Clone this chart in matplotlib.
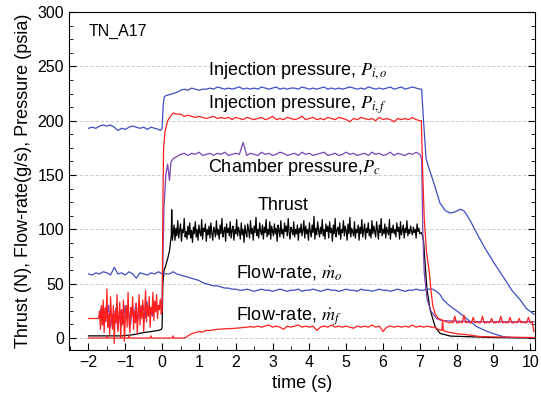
import matplotlib
matplotlib.use('Agg')
import matplotlib.pyplot as plt
from matplotlib.ticker import MultipleLocator
import numpy as np

plt.rcParams['font.family'] = ['Liberation Sans', 'DejaVu Sans']
plt.rcParams['mathtext.fontset'] = 'stix'

# ---- Injection pressure, oxidizer (blue) ----
pio_pre_t = [-2.0, -1.9, -1.8, -1.7, -1.6, -1.5, -1.4, -1.3, -1.2, -1.1, -1.0, -0.9, -0.8, -0.7,
             -0.6, -0.5, -0.4, -0.3, -0.2, -0.1, -0.05, 0.0, 0.03, 0.06, 0.1, 0.2, 0.3, 0.4, 0.5,
             0.6, 0.7, 0.8, 0.9, 1.0, 1.1]
pio_pre_v = [193, 194, 193, 195, 196, 195, 196, 194, 191, 193, 192, 194, 195, 194,
             193, 194, 192, 194, 193, 192, 191, 193, 215, 222, 223, 224, 225, 226, 228,
             229, 228, 230, 229, 228, 229]
pio_flat = [229, 230, 229, 231, 230, 229, 230, 229, 230, 231, 229, 230, 229, 230, 229, 231, 230, 229, 230, 231,
            229, 230, 229, 230, 230, 229, 231, 230, 229, 230, 229, 230, 231, 229, 230, 229, 230, 229, 230, 231,
            230, 229, 230, 229, 231, 230, 229, 230, 229, 230, 231, 229, 230, 231, 229, 230, 231, 230, 229]
pio_tail_t = [7.05, 7.1, 7.17, 7.24, 7.33, 7.45, 7.55, 7.7, 7.83, 7.95, 8.1, 8.2, 8.3, 8.4, 8.6, 8.8,
              9.0, 9.27, 9.5, 9.73, 9.9, 10.1]
pio_tail_v = [229, 200, 165, 157, 148, 135, 124, 117, 115, 116, 118.5, 117, 112, 106, 93, 81,
              70, 56, 44, 35, 27, 22]

# ---- Injection pressure, fuel (red) ----
pif_pre_t = [-2.0, -1.75]
pif_pre_v = [18, 18]
pif_noise = [18, 25, 8, 30, 12, 35, 5, 28, 15, 45, 10, 22, 3, 38, 20, 8, 30, -5, 25, 14,
             40, 6, 20, 33, 0, 26, 12, 35, -3, 18, 30, 10, 42, 15, 5, 28, 20, 38, 8, 25,
             14, 32, 4, 22, 40, 12, 30, 18, 35, 6, 26, 44, 15, 30, 20, 38, 10, 28, 22, 42,
             16, 34, 24, 40, 18, 30, 26, 36, 22]
pif_rise_t = [0.0, 0.02, 0.04, 0.08, 0.15, 0.25, 0.3, 0.4, 0.5]
pif_rise_v = [25, 120, 175, 190, 200, 205, 207, 206, 206]
pif_flat = [204, 205, 204, 203, 204, 203, 202, 203, 204, 202, 203, 202, 203, 201, 203, 202, 201, 203, 202, 201,
            202, 203, 201, 202, 204, 201, 202, 201, 203, 202, 201, 202, 204, 201, 202, 203, 201, 202, 201, 203,
            202, 201, 203, 202, 201, 199, 202, 201, 203, 202, 201, 202, 200, 203, 201, 202, 201, 199, 202, 201,
            202, 201, 203, 201, 200]
pif_drop_t = [7.04, 7.08, 7.12, 7.18, 7.26, 7.3, 7.35, 7.42, 7.5, 7.65]
pif_drop_v = [200, 150, 110, 80, 60, 45, 30, 22, 18, 16]
pif_tail = [14, 15, 14, 20, 14, 14, 15, 14, 21, 14, 15, 14, 14, 19, 14, 15, 14, 14, 20, 14,
            14, 15, 14, 18, 14, 14, 15, 14, 20, 14, 15, 14, 14, 19, 14, 14, 15, 14, 18, 14,
            15, 14, 14, 19, 14, 15, 6]

# ---- Chamber pressure (purple) ----
pc_noise = [20, 28, 12, 25, 18, 30, 10, 22, 15, 28, 8, 20, 26, 14, 30, 18, 24, 12, 28, 20,
            32, 16, 26, 22, 30, 18, 34, 24, 28, 20, 32, 26, 30, 28, 33]
pc_rise_t = [0.0, 0.05, 0.1, 0.15, 0.2, 0.24, 0.3]
pc_rise_v = [35, 120, 150, 160, 145, 162, 165]
pc_flat = [167, 169, 170, 168, 170, 169, 171, 168, 169, 170, 168, 170, 169, 171, 168, 169, 170, 169, 180, 168,
           170, 169, 168, 171, 169, 170, 168, 169, 171, 170, 168, 169, 170, 168, 171, 169, 170, 168, 169, 170,
           171, 168, 169, 170, 168, 169, 171, 169, 170, 168, 169, 170, 168, 171, 169, 170, 168, 169, 171, 168,
           170, 169, 168, 170, 169, 171, 169]
pc_tail_t = [7.05, 7.08, 7.12, 7.2, 7.3, 7.45, 7.6, 8.5, 9.5, 10.1]
pc_tail_v = [165, 100, 60, 35, 25, 18, 16, 15, 15, 15]

# ---- Thrust (black) ----
th_pre_t = [-2.0, -1.1, -0.8, -0.5, -0.3, -0.1, -0.02, 0.0, 0.02, 0.05, 0.1, 0.15, 0.2, 0.25, 0.26, 0.28]
th_pre_v = [2, 2, 3, 5, 6, 7, 8, 10, 50, 62, 67, 73, 80, 95, 118, 90]
th_flat = [96, 104, 90, 101, 94, 108, 92, 99, 105, 89, 100, 97, 110, 93, 98, 91, 103, 95, 106, 92,
           99, 88, 102, 96, 107, 93, 100, 90, 104, 97, 94, 109, 91, 101, 98, 105, 89, 100, 95, 103,
           92, 106, 97, 90, 102, 99, 93, 108, 95, 100, 91, 104, 96, 110, 93, 98, 102, 89, 105, 97,
           101, 94, 107, 92, 99, 103, 90, 100, 96, 109, 94, 102, 98, 91, 106, 95, 100, 88, 104, 97,
           93, 105, 99, 92, 108, 96, 101, 90, 103, 97, 111, 94, 100, 92, 106, 98, 95, 104, 91, 102,
           97, 109, 93, 100, 95, 107, 91, 103, 98, 94, 105, 96, 101, 89, 104, 99, 93, 108, 96, 100,
           92, 106, 98, 103, 94, 110, 97, 91, 102, 99, 95, 107, 93, 100, 96, 104, 90, 101, 97, 105,
           94, 99, 108, 92, 103, 96, 100, 90, 106, 98, 93, 104, 97, 112, 91, 101, 95, 107, 99, 93,
           102, 96, 109, 94, 100, 91, 105, 98, 103, 92, 107, 97, 101, 89, 104, 96, 110, 93, 99, 102,
           95, 106, 91, 100, 97, 108, 94, 103, 99, 90, 105, 96, 111, 93, 101, 98, 94, 107, 92, 100,
           97, 104, 90, 102, 96, 109, 93, 99, 105, 91, 101, 97, 106, 94, 100, 92, 108, 96, 103, 98,
           93, 107, 99, 91, 104, 97, 110, 94, 100, 96, 105, 92, 102, 98, 95, 109, 91, 101, 97, 104,
           96, 100, 93, 106, 98, 102, 91, 107, 95, 99, 104, 92, 101, 97, 108, 94, 100, 96, 103, 98,
           95, 102, 97, 100, 92, 105, 98, 101, 96]
th_tail_t = [7.05, 7.1, 7.15, 7.19, 7.28, 7.42, 7.55, 7.83, 8.5, 9.0, 10.1]
th_tail_v = [97, 90, 65, 46, 26, 10, 4.3, 1.8, 1, 0.5, 0]

# ---- Flow-rate, oxidizer (blue) ----
mo_pre = [59, 58, 60, 59, 61, 60, 58, 65, 59, 60, 58, 61, 59, 55, 60, 59, 58, 60, 59, 61, 59]
mo_mid_t = [0.1, 0.2, 0.3, 0.4, 0.5, 0.6, 0.7, 0.8, 0.9, 1.0, 1.1, 1.2, 1.3, 1.4, 1.5, 1.6, 1.7,
            1.8, 1.9, 2.0, 2.1]
mo_mid_v = [59, 59, 61, 59, 58, 57, 56, 55, 54, 53, 51, 50, 49, 48, 48, 47, 46, 46, 45, 45, 44]
mo_flat = [44, 45, 44, 43, 44, 45, 44, 44, 43, 44, 45, 44, 43, 44, 44, 45, 43, 44, 44, 45,
           44, 43, 44, 45, 44, 44, 43, 44, 45, 44, 44, 43, 45, 44, 44, 43, 44, 45, 44, 44,
           43, 44, 45, 44, 43, 44, 44, 45, 44, 44, 45, 45]
mo_tail_t = [7.35, 7.45, 7.55, 7.64, 7.8, 8.1, 8.3, 8.55, 8.8, 9.0, 9.27, 9.5, 10.1]
mo_tail_v = [45, 43, 40, 35, 30, 22.6, 17, 10.4, 6.5, 4, 1.2, 0.5, 0.3]

# ---- Flow-rate, fuel (red) ----
mf_pre_t = [-2.0, -1.52, -1.5, -1.48, -0.92, -0.9, -0.88, -0.32, -0.3, -0.28, 0.28, 0.3, 0.32, 0.6,
            0.65, 0.7, 0.8, 0.9, 1.0, 1.1, 1.2, 1.3, 1.5, 1.7, 2.0, 2.3, 2.4]
mf_pre_v = [0, 0, 2, 0, 0, 2, 0, 0, 2, 0, 0, 2, 0, 0,
            0.5, 2, 4, 5, 6, 5.5, 7, 7, 8, 8.5, 9, 10, 10.5]
mf_flat = [10, 11, 10, 11, 12, 10, 11, 10, 8, 11, 10, 11, 12, 10, 11, 10, 11, 7, 10, 11,
           10, 12, 10, 11, 10, 11, 10, 9, 11, 10, 11, 10, 12, 10, 11, 6, 10, 11, 10, 11,
           10, 11, 10, 12, 10, 11, 10, 11, 10]
mf_tail_t = [7.4, 7.5, 7.6, 7.62, 7.64, 7.7, 8.0, 8.3, 8.6, 9.0, 10.1]
mf_tail_v = [10, 8, 7, 16, 7, 6, 4, 3, 1.5, 1, 0.5]


def seg(t0, t1, vals):
    return list(np.linspace(t0, t1, len(vals))), list(vals)


def build(*parts):
    t, v = [], []
    for pt, pv in parts:
        t += list(pt)
        v += list(pv)
    return np.array(t), np.array(v)


pio_t, pio_v = build((pio_pre_t, pio_pre_v), seg(1.2, 7.0, pio_flat), (pio_tail_t, pio_tail_v))
pif_t, pif_v = build((pif_pre_t, pif_pre_v), seg(-1.725, -0.025, pif_noise), (pif_rise_t, pif_rise_v),
                     seg(0.6, 7.0, pif_flat), (pif_drop_t, pif_drop_v), seg(7.8, 10.1, pif_tail))
pc_t, pc_v = build(seg(-1.7, -0.02, pc_noise), (pc_rise_t, pc_rise_v), seg(0.4, 7.0, pc_flat),
                   (pc_tail_t, pc_tail_v))
th_t, th_v = build((th_pre_t, th_pre_v), seg(0.3, 7.0, th_flat), (th_tail_t, th_tail_v))
mo_t, mo_v = build(seg(-2.0, 0.0, mo_pre), (mo_mid_t, mo_mid_v), seg(2.2, 7.3, mo_flat),
                   (mo_tail_t, mo_tail_v))
mf_t, mf_v = build((mf_pre_t, mf_pre_v), seg(2.5, 7.3, mf_flat), (mf_tail_t, mf_tail_v))

blue = '#3d4fbf'
red = '#ff1f1f'
purple = '#7a44b4'

fig = plt.figure(figsize=(5.41, 4.0), dpi=100)
ax = fig.add_axes([0.1275, 0.125, 0.8615, 0.845])

ax.plot(th_t, th_v, color='black', lw=0.9)
ax.plot(mo_t, mo_v, color=blue, lw=0.9)
ax.plot(mf_t, mf_v, color=red, lw=0.9)
ax.plot(pc_t, pc_v, color=purple, lw=0.9)
ax.plot(pif_t, pif_v, color=red, lw=0.9)
ax.plot(pio_t, pio_v, color=blue, lw=0.9)

ax.set_xlim(-2.53, 10.13)
ax.set_ylim(-11, 300)
ax.xaxis.set_major_locator(MultipleLocator(1))
ax.xaxis.set_minor_locator(MultipleLocator(0.5))
ax.yaxis.set_major_locator(MultipleLocator(50))
ax.yaxis.set_minor_locator(MultipleLocator(12.5))
ax.tick_params(which='both', direction='in', right=True, top=False, labelsize=11.5)
ax.tick_params(which='major', length=5)
ax.tick_params(which='minor', length=3)
ax.grid(axis='y', which='major', ls='--', color='#d0d0d0', lw=0.7)
ax.set_axisbelow(True)

ax.set_xlabel('time (s)', fontsize=13)
ax.set_ylabel('Thrust (N), Flow-rate(g/s), Pressure (psia)', fontsize=13)

fs = 13
ax.text(-2.0, 282, 'TN_A17', fontsize=11.5, va='center')
ax.text(1.25, 246, r'Injection pressure, $P_{i,o}$', fontsize=fs, va='center')
ax.text(1.25, 215, r'Injection pressure, $P_{i,f}$', fontsize=fs, va='center')
ax.text(1.25, 157, r'Chamber pressure,$P_c$', fontsize=fs, va='center')
ax.text(2.6, 122, 'Thrust', fontsize=fs, va='center')
ax.text(2.0, 60, r'Flow-rate, $\dot{m}_o$', fontsize=fs, va='center')
ax.text(2.0, 20, r'Flow-rate, $\dot{m}_f$', fontsize=fs, va='center')

fig.savefig('out.png', dpi=100)
